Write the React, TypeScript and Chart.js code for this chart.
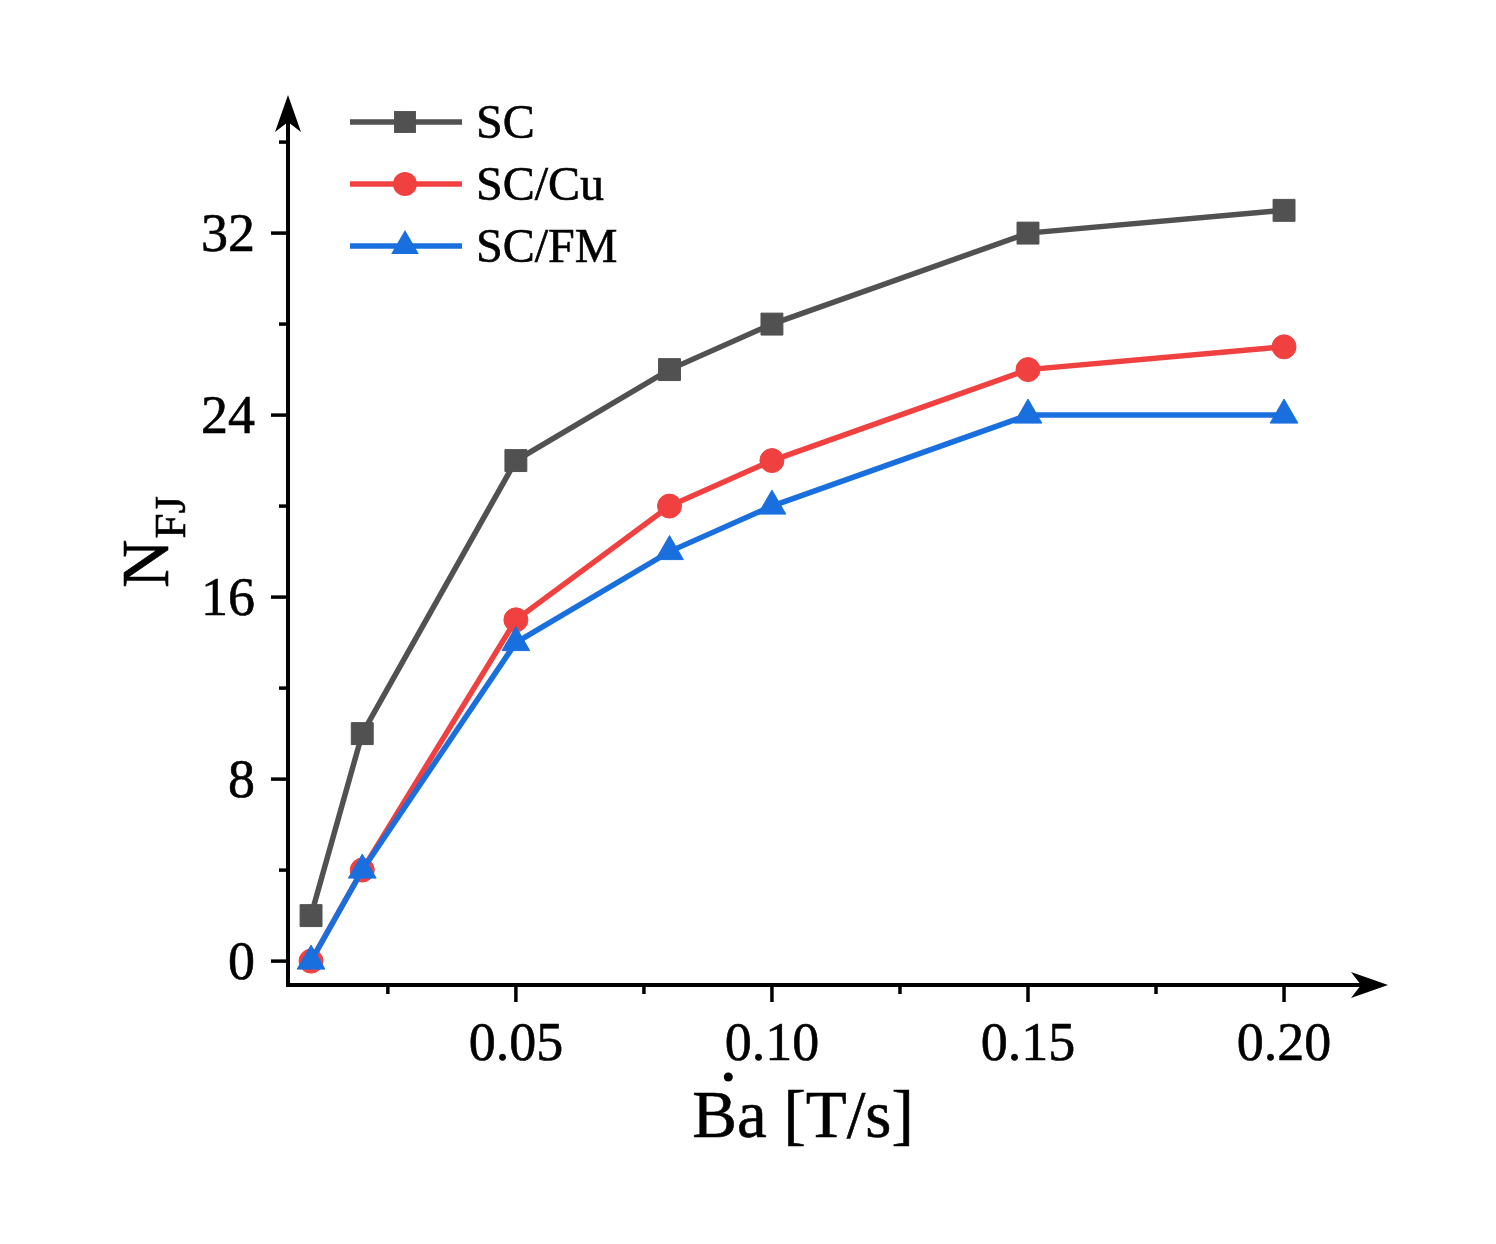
import React, { useEffect, useRef } from "react";
import { Chart, registerables } from "chart.js";

Chart.register(...registerables);

const xValues = [0.01, 0.02, 0.05, 0.08, 0.1, 0.15, 0.2];
const scValues = [2, 10, 22, 26, 28, 32, 33];
const scCuValues = [0, 4, 15, 20, 22, 26, 27];
const scFmValues = [0, 4, 14, 18, 20, 24, 24];
const seriesNames = ["SC", "SC/Cu", "SC/FM"];
const seriesColors = ["#515151", "#F14040", "#1A6FDF"];
const xMajorTicks = [0.05, 0.1, 0.15, 0.2];
const xTickLabels = ["0.05", "0.10", "0.15", "0.20"];
const xMinorTicks = [0.025, 0.075, 0.125, 0.175];
const yMajorTicks = [0, 8, 16, 24, 32];
const yTickLabels = ["0", "8", "16", "24", "32"];
const yMinorTicks = [4, 12, 20, 28, 36];

const FONT = '"Liberation Serif", "Times New Roman", serif';

const W = 1496;
const H = 1244;

function text(ctx: CanvasRenderingContext2D, s: string, x: number, y: number) {
  ctx.fillText(s, x, y);
  ctx.lineWidth = 0.6;
  ctx.strokeStyle = ctx.fillStyle as string;
  ctx.strokeText(s, x, y);
}

export default function App() {
  const ref = useRef<HTMLCanvasElement | null>(null);

  useEffect(() => {
    const canvas = ref.current;
    if (!canvas) return;

    const mk = (vals: number[]) => vals.map((y, i) => ({ x: xValues[i], y }));
    const styles = ["rect", "circle", "triangle"];
    const radii = [15.5, 12, 16];

    function drawMarker(ctx: CanvasRenderingContext2D, style: string, r: number, x: number, y: number) {
      ctx.beginPath();
      if (style === "rect") {
        const s = r * Math.SQRT1_2;
        ctx.rect(x - s, y - s, 2 * s, 2 * s);
      } else if (style === "circle") {
        ctx.arc(x, y, r, 0, Math.PI * 2);
      } else {
        const a = -Math.PI / 2;
        for (let k = 0; k < 3; k++) {
          const ang = a + (k * 2 * Math.PI) / 3;
          const px = x + Math.cos(ang) * r;
          const py = y + Math.sin(ang) * r;
          if (k === 0) ctx.moveTo(px, py);
          else ctx.lineTo(px, py);
        }
        ctx.closePath();
      }
      ctx.fill();
    }

    const axesPlugin = {
      id: "axesPlugin",
      beforeDatasetsDraw(chart: any) {
        const ctx = chart.ctx as CanvasRenderingContext2D;
        const xs = chart.scales.x;
        const ys = chart.scales.y;
        const area = chart.chartArea;
        const x0 = area.left;
        const y0 = area.bottom;
        ctx.save();
        ctx.strokeStyle = "#000";
        ctx.fillStyle = "#000";
        ctx.lineWidth = 4;
        ctx.lineCap = "butt";
        // y axis
        ctx.beginPath();
        ctx.moveTo(x0, y0 + 2);
        ctx.lineTo(x0, area.top + 25);
        ctx.stroke();
        // x axis
        ctx.beginPath();
        ctx.moveTo(x0 - 2, y0);
        ctx.lineTo(area.right - 25, y0);
        ctx.stroke();
        // arrows
        const tipY = area.top;
        ctx.beginPath();
        ctx.moveTo(x0, tipY);
        ctx.lineTo(x0 - 13, tipY + 37);
        ctx.lineTo(x0, tipY + 27);
        ctx.lineTo(x0 + 13, tipY + 37);
        ctx.closePath();
        ctx.fill();
        const tipX = area.right;
        ctx.beginPath();
        ctx.moveTo(tipX, y0);
        ctx.lineTo(tipX - 37, y0 - 13);
        ctx.lineTo(tipX - 27, y0);
        ctx.lineTo(tipX - 37, y0 + 13);
        ctx.closePath();
        ctx.fill();
        // ticks
        ctx.lineWidth = 3.5;
        yMajorTicks.forEach((v) => {
          const py = ys.getPixelForValue(v);
          ctx.beginPath();
          ctx.moveTo(x0, py);
          ctx.lineTo(x0 - 17, py);
          ctx.stroke();
        });
        yMinorTicks.forEach((v) => {
          const py = ys.getPixelForValue(v);
          ctx.beginPath();
          ctx.moveTo(x0, py);
          ctx.lineTo(x0 - 9, py);
          ctx.stroke();
        });
        xMajorTicks.forEach((v) => {
          const px = xs.getPixelForValue(v);
          ctx.beginPath();
          ctx.moveTo(px, y0);
          ctx.lineTo(px, y0 + 17);
          ctx.stroke();
        });
        xMinorTicks.forEach((v) => {
          const px = xs.getPixelForValue(v);
          ctx.beginPath();
          ctx.moveTo(px, y0);
          ctx.lineTo(px, y0 + 9);
          ctx.stroke();
        });
        // tick labels
        ctx.font = `54px ${FONT}`;
        ctx.textAlign = "right";
        ctx.textBaseline = "alphabetic";
        yMajorTicks.forEach((v, i) => {
          const py = ys.getPixelForValue(v);
          text(ctx, yTickLabels[i], x0 - 33, py + 18);
        });
        ctx.textAlign = "center";
        xMajorTicks.forEach((v, i) => {
          const px = xs.getPixelForValue(v);
          text(ctx, xTickLabels[i], px, y0 + 75);
        });
        // x title
        ctx.font = `67px ${FONT}`;
        ctx.textAlign = "center";
        const title = "Ba [T/s]";
        const tw = ctx.measureText(title).width;
        const tcx = 803;
        const tleft = tcx - tw / 2;
        text(ctx, title, tcx, 1137);
        ctx.beginPath();
        ctx.arc(tleft + 36, 1077, 4.5, 0, Math.PI * 2);
        ctx.fill();
        // y title
        ctx.save();
        ctx.translate(168, 588);
        ctx.rotate(-Math.PI / 2);
        ctx.textAlign = "left";
        ctx.font = `67px ${FONT}`;
        text(ctx, "N", 0, 0);
        const nw = ctx.measureText("N").width;
        ctx.font = `45px ${FONT}`;
        text(ctx, "FJ", nw + 1, 17);
        ctx.restore();
        ctx.restore();
      },
      afterDraw(chart: any) {
        const ctx = chart.ctx as CanvasRenderingContext2D;
        ctx.save();
        const rowY = [122, 184, 246];
        chart.data.datasets.forEach((ds: any, i: number) => {
          const y = rowY[i];
          ctx.strokeStyle = ds.borderColor;
          ctx.lineWidth = 5.5;
          ctx.beginPath();
          ctx.moveTo(350, y);
          ctx.lineTo(462, y);
          ctx.stroke();
          ctx.fillStyle = ds.borderColor;
          drawMarker(ctx, ds.pointStyle, ds.pointRadius, 405, y);
          ctx.fillStyle = "#000";
          ctx.font = `48px ${FONT}`;
          ctx.textAlign = "left";
          ctx.textBaseline = "alphabetic";
          text(ctx, ds.label, 476, y + 16);
        });
        ctx.restore();
      },
    };

    const seriesValues = [scValues, scCuValues, scFmValues];
    const chart = new Chart(canvas, {
      type: "line",
      data: {
        datasets: seriesValues.map((vals, i) => ({
          label: seriesNames[i],
          data: mk(vals),
          borderColor: seriesColors[i],
          backgroundColor: seriesColors[i],
          pointBackgroundColor: seriesColors[i],
          pointBorderColor: seriesColors[i],
          pointBorderWidth: 1,
          borderWidth: 5.5,
          pointStyle: styles[i] as any,
          pointRadius: radii[i],
          tension: 0,
          order: 2 - i,
          clip: false as any,
        })),
      },
      options: {
        responsive: false,
        animation: false,
        devicePixelRatio: 1,
        layout: { padding: { left: 288, right: W - 1388, top: 95, bottom: H - 985 } },
        plugins: { legend: { display: false }, tooltip: { enabled: false } },
        scales: {
          x: { type: "linear", min: 0.0055, max: 0.2203, display: false },
          y: { type: "linear", min: -1.05, max: 38.07, display: false },
        },
      },
      plugins: [axesPlugin],
    });
    return () => chart.destroy();
  }, []);

  return (
    <div style={{ position: "fixed", left: 0, top: 0, width: W, height: H, background: "#fff" }}>
      <canvas ref={ref} width={W} height={H} style={{ display: "block" }} />
    </div>
  );
}
